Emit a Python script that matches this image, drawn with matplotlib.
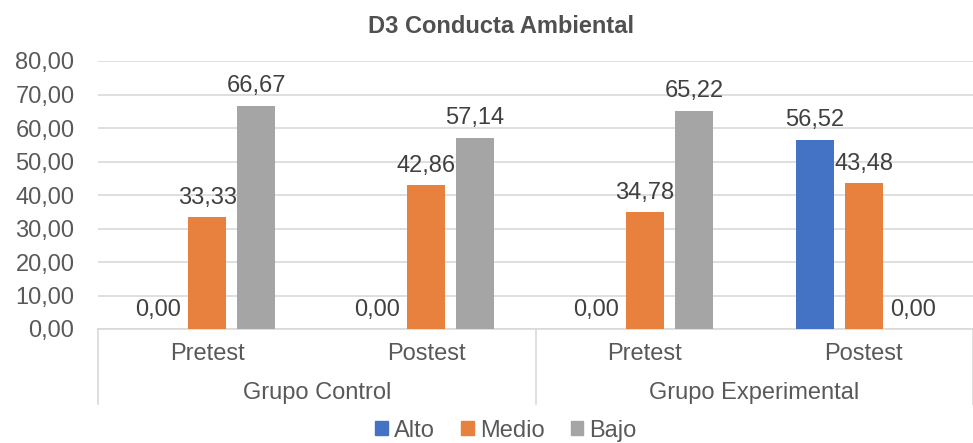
import numpy as np
import matplotlib
matplotlib.use("Agg")
import matplotlib.pyplot as plt
from matplotlib.ticker import FuncFormatter
from matplotlib.patches import Patch

plt.rcParams['font.family'] = ['Liberation Sans', 'DejaVu Sans']

# datos
fases = ["Pretest", "Postest", "Pretest", "Postest"]
grupos = ["Grupo Control", "Grupo Experimental"]
niveles = ["Alto", "Medio", "Bajo"]
alto = [0.00, 0.00, 0.00, 56.52]
medio = [33.33, 42.86, 34.78, 43.48]
bajo = [66.67, 57.14, 65.22, 0.00]
colores = ["#4472C4", "#E8803E", "#A5A5A5"]

def coma(v, pos=None):
    return ("%.2f" % v).replace(".", ",")

fig = plt.figure(figsize=(9.73, 4.43), dpi=100)
ax = fig.add_axes([98/973, 1-329/443, 1-98/973, 268/443])

x = np.arange(len(fases))
paso = 0.224
ancho = 0.174
series = [alto, medio, bajo]
for i, (vals, c) in enumerate(zip(series, colores)):
    xs = x + (i-1)*paso
    ax.bar(xs, vals, width=ancho, color=c, zorder=3)
    for xi, v in zip(xs, vals):
        ax.annotate(coma(v), (xi, v), xytext=(0, 6), textcoords="offset points",
                    ha="center", va="bottom", fontsize=17, color="#404040")

ax.set_xlim(-0.5, 3.5)
ax.set_ylim(0, 80)
ax.set_yticks(np.arange(0, 81, 10))
ax.yaxis.set_major_formatter(FuncFormatter(coma))
ax.tick_params(axis="y", length=0, pad=17, labelsize=17, labelcolor="#595959")
ax.grid(axis="y", color="#D9D9D9", lw=1.2, zorder=0)
for s in ["left", "right", "top"]:
    ax.spines[s].set_visible(False)
ax.spines["bottom"].set_color("#D9D9D9")
ax.spines["bottom"].set_linewidth(1.2)
ax.set_xticks([])

trans = ax.get_xaxis_transform()
for xi, f in zip(x, fases):
    ax.text(xi, -0.095, f, transform=trans, ha="center", va="center",
            fontsize=17, color="#595959")
for j, g in enumerate(grupos):
    ax.text(0.5 + 2*j, -0.238, g, transform=trans, ha="center", va="center",
            fontsize=17, color="#595959")
for xs in [-0.5, 1.5, 3.5]:
    ax.plot([xs, xs], [0, -0.28], transform=trans, color="#D9D9D9", lw=1.2,
            clip_on=False)

fig.text(0.515, 0.941, "D3 Conducta Ambiental", ha="center", va="center",
         fontsize=17, fontweight="bold", color="#505050")

handles = [Patch(color=c, label=n) for c, n in zip(colores, niveles)]
fig.legend(handles=handles, loc="center", bbox_to_anchor=(0.52, 0.028), ncol=3,
           frameon=False, fontsize=17, handlelength=0.55, handleheight=0.55,
           handletextpad=0.25, columnspacing=1.1, labelcolor="#595959")

fig.savefig("out.png", dpi=100)
